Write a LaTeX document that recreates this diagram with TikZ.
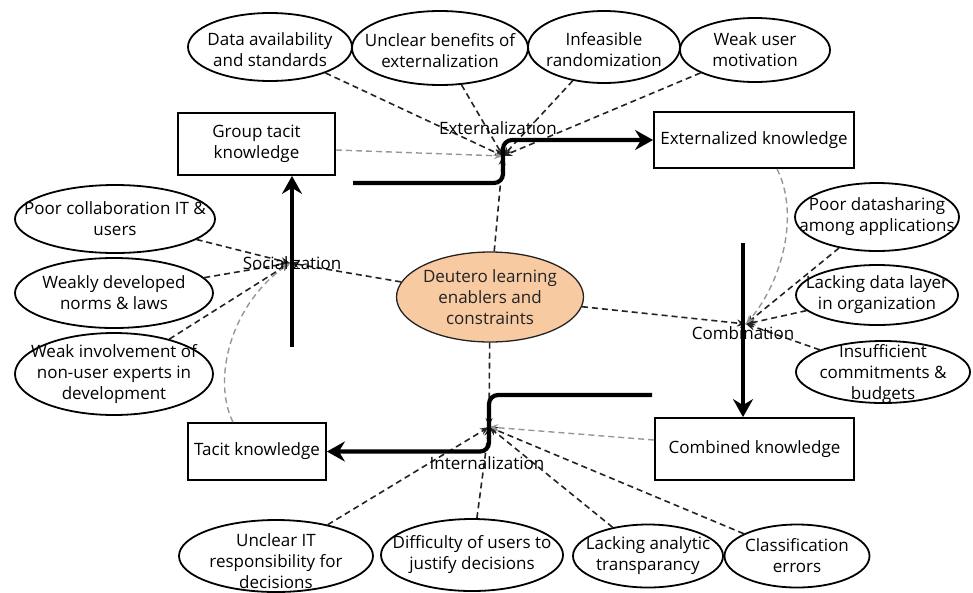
\documentclass[tikz,border=0pt]{standalone}
\usepackage{fontspec}
\setmainfont{Open Sans}
\usetikzlibrary{arrows.meta,shapes.geometric}
\definecolor{peach}{RGB}{247,202,162}
\definecolor{dgrey}{RGB}{35,35,35}
\definecolor{lgrey}{RGB}{150,150,150}
\begin{document}
\begin{tikzpicture}[x=1pt,y=-1pt,
  font=\fontsize{17}{21}\selectfont,
  cons/.style={draw, ellipse, line width=1.8pt, inner sep=0pt},
  txt/.style={align=center, inner sep=0pt},
  kbox/.style={draw, rectangle, line width=1.8pt, inner sep=0pt, align=center},
  link/.style={dgrey, dash pattern=on 6pt off 4pt, line width=1.6pt, -{Stealth[length=9pt,width=7pt]}},
  glink/.style={lgrey, dash pattern=on 6pt off 4pt, line width=1.4pt, -{Stealth[length=9pt,width=7pt]}},
  flow/.style={line width=4.2pt, rounded corners=9pt, -{Stealth[length=18pt,width=20pt,inset=6pt]}},
  plabel/.style={inner sep=0pt}
]
\useasboundingbox (0,0) rectangle (973,592);

% knowledge boxes
\node[kbox, minimum width=157pt, minimum height=62pt] (gt) at (256.5,144) {Group tacit\\knowledge};
\node[kbox, minimum width=200pt, minimum height=56pt] (ek) at (754,140) {Externalized knowledge};
\node[kbox, minimum width=199pt, minimum height=62pt] (ck) at (754.5,449) {Combined knowledge};
\node[kbox, minimum width=138pt, minimum height=57pt] (tk) at (257,451.5) {Tacit knowledge};

% centre
\node[draw=dgrey, fill=peach, ellipse, line width=1.3pt, minimum width=187pt, minimum height=90pt, inner sep=0pt] (dl) at (490,297) {};
\node[txt, text=dgrey] (dlt) at (dl) {Deutero learning\\enablers and\\constraints};

% constraint ellipses
\node[cons, minimum width=164pt, minimum height=68pt] (da) at (270,47) {};
\node[txt] (dat) at ([yshift=-3pt]da) {Data availability\\and standards};
\node[cons, minimum width=176pt, minimum height=74pt] (ub) at (440,48) {};
\node[txt] (ubt) at ([yshift=-3pt]ub) {Unclear benefits of\\externalization};
\node[cons, minimum width=152pt, minimum height=72pt] (inf) at (604,47) {};
\node[txt] (inft) at ([yshift=-3pt]inf) {Infeasible\\randomization};
\node[cons, minimum width=150pt, minimum height=64pt] (wu) at (755,50) {};
\node[txt] (wut) at (wu) {Weak user\\motivation};

\node[cons, minimum width=200pt, minimum height=68pt] (pc) at (115,219) {};
\node[txt] (pct) at (pc) {Poor collaboration IT \&\\users};
\node[cons, minimum width=198pt, minimum height=70pt] (wd) at (114,293) {};
\node[txt] (wdt) at (wd) {Weakly developed\\norms \& laws};
\node[cons, minimum width=198pt, minimum height=82pt] (wi) at (114,374) {};
\node[txt] (wit) at (wi) {Weak involvement of\\non-user experts in\\development};

\node[cons, minimum width=164pt, minimum height=68pt] (pd) at (877,217) {};
\node[txt] (pdt) at (pd) {Poor datasharing\\among applications};
\node[cons, minimum width=162pt, minimum height=60pt] (ld) at (877,295) {};
\node[txt] (ldt) at (ld) {Lacking data layer\\in organization};
\node[cons, minimum width=174pt, minimum height=62pt] (ic) at (883,372) {};
\node[txt] (ict) at ([yshift=-2pt]ic) {Insufficient\\commitments \&\\budgets};

\node[cons, minimum width=194pt, minimum height=72pt] (ui) at (276,556) {};
\node[txt] (uit) at ([yshift=-5pt]ui) {Unclear IT\\responsibility for\\decisions};
\node[cons, minimum width=182pt, minimum height=72pt] (du) at (472,555) {};
\node[txt] (dut) at (du) {Difficulty of users to\\justify decisions};
\node[cons, minimum width=150pt, minimum height=63pt] (la) at (648,556) {};
\node[txt] (lat) at (la) {Lacking analytic\\transparancy};
\node[cons, minimum width=145pt, minimum height=63pt] (ce) at (797,556) {};
\node[txt] (cet) at (ce) {Classification\\errors};

% junctions
\coordinate (jx) at (503,156);
\coordinate (js) at (290,263);
\coordinate (jc) at (746,324);
\coordinate (ji) at (489,427);

% dashed links
\foreach \n in {da,ub,inf,wu} \draw[link] (\n) -- (jx);
\foreach \n in {pc,wd,wi} \draw[link] (\n) -- (js);
\foreach \n in {pd,ld,ic} \draw[link] (\n) -- (jc);
\foreach \n in {ui,du,la,ce} \draw[link] (\n) -- (ji);
\draw[link] (dl) -- (jx);
\draw[link] (dl) -- (js);
\draw[link] (dl) -- (jc);
\draw[link] (dl) -- (ji);

% grey links
\draw[glink] ([yshift=-6pt]gt.east) -- (jx);
\draw[glink] ([xshift=23pt]ek.south) .. controls (800,215) and (782,282) .. (jc);
\draw[glink] ([yshift=9pt]ck.west) -- (ji);
\draw[glink] ([xshift=-24pt]tk.north) .. controls (212,380) and (230,305) .. (js);

% flows
\coordinate (ss) at (292,347);
\draw[flow] (ss) -- (ss |- gt.south);
\coordinate (xs) at (353,183);
\draw[flow] (xs) -| (jx |- ek.west) -- (ek.west);
\coordinate (cs) at (743,243);
\draw[flow] (cs) -- (cs |- ck.north);
\coordinate (is) at (652,395);
\draw[flow] (is) -| (ji |- tk.east) -- (tk.east);

% process labels
\node[plabel] (lx) at (498,128) {Externalization};
\node[plabel] (ls) at (292,263) {Socialization};
\node[plabel] (lc) at (743,333) {Combination};
\node[plabel] (li) at (487,463) {Internalization};
\end{tikzpicture}
\end{document}
